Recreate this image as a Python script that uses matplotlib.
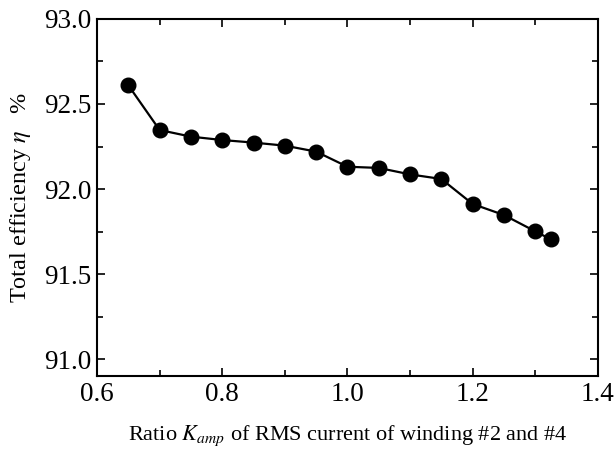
import matplotlib
matplotlib.use("Agg")
import matplotlib.pyplot as plt
from matplotlib.ticker import MultipleLocator

# data
k_amp = [0.65, 0.70, 0.75, 0.80, 0.85, 0.90, 0.95, 1.00, 1.05, 1.10,
         1.15, 1.20, 1.25, 1.30, 1.325]
efficiency = [92.61, 92.347, 92.308, 92.288, 92.273, 92.255, 92.220, 92.131,
              92.124, 92.086, 92.059, 91.912, 91.847, 91.751, 91.704]

plt.rcParams["font.family"] = ["Liberation Serif", "DejaVu Serif"]
plt.rcParams["mathtext.fontset"] = "stix"

fig = plt.figure(figsize=(6.16, 4.5), dpi=100)
ax = fig.add_axes([0.1575, 0.1644, 0.813, 0.7934])

ax.plot(k_amp, efficiency, color="black", linewidth=1.6,
        marker="o", markersize=10.5)

ax.set_xlim(0.6, 1.4)
ax.set_ylim(90.9, 93.0)
ax.xaxis.set_major_locator(MultipleLocator(0.2))
ax.xaxis.set_minor_locator(MultipleLocator(0.1))
ax.yaxis.set_major_locator(MultipleLocator(0.5))
ax.yaxis.set_minor_locator(MultipleLocator(0.25))
ax.xaxis.set_major_formatter(plt.FuncFormatter(lambda x, _: f"{x:.1f}"))
ax.yaxis.set_major_formatter(plt.FuncFormatter(lambda y, _: f"{y:.1f}"))

ax.tick_params(which="both", direction="in", top=True, right=True,
               labelsize=19.5, width=1.2, pad=4)
ax.tick_params(which="major", length=6)
ax.tick_params(which="minor", length=4)
for s in ax.spines.values():
    s.set_linewidth(1.5)

ax.set_xlabel("Ratio $K_{amp}$ of RMS current of winding #2 and #4",
              fontsize=16, labelpad=12)
ax.set_ylabel("Total efficiency $\\eta$   %", fontsize=17.5, labelpad=8)

fig.savefig("out.png", dpi=100)
